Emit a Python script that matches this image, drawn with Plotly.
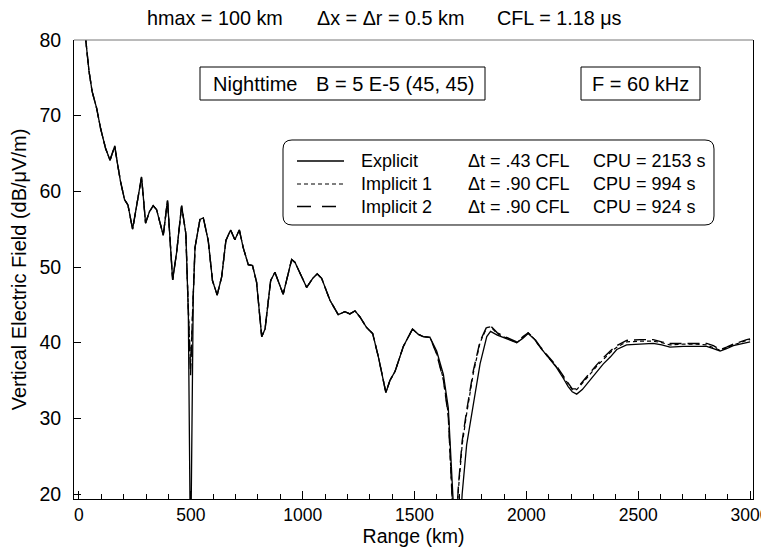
import plotly.graph_objects as go

# ---------------- data ----------------
range_km = [
    20, 31, 45, 59, 79, 97, 119, 139, 160, 171,
    186, 204, 219, 240, 280, 298, 315, 332, 347, 377,
    396, 419, 437, 459, 478, 489, 499, 511, 519, 541,
    556, 578, 597, 618, 638, 657, 678, 697, 717, 734,
    757, 776, 794, 817, 832, 857, 876, 913, 951, 966,
    990, 1018, 1045, 1065, 1085, 1122, 1159, 1189, 1211, 1234,
    1256, 1286, 1313, 1338, 1372, 1390, 1413, 1450, 1491, 1517,
    1539, 1569, 1599, 1629, 1651, 1666, 1680, 1696, 1713, 1733,
    1763, 1793, 1823, 1840, 1870, 1897, 1930, 1957, 1985, 2008,
    2035, 2061, 2100, 2135, 2165, 2187, 2205, 2225, 2250, 2284,
    2315, 2344, 2375, 2404, 2448, 2508, 2567, 2605, 2642, 2701,
    2760, 2806, 2836, 2866, 2895, 2925, 2985, 3000,
]

explicit_db = [
    83.0, 80.0, 75.9, 73.2, 71.0, 68.3, 65.7, 64.1, 66.0, 63.9,
    61.3, 58.9, 58.2, 55.0, 61.9, 55.8, 57.3, 58.1, 57.6, 54.2,
    58.8, 48.3, 52.0, 58.1, 54.4, 44.0, 10.0, 46.0, 52.6, 56.3,
    56.5, 53.5, 48.2, 46.3, 48.7, 53.5, 54.9, 53.6, 54.9, 52.6,
    50.3, 50.2, 48.0, 40.8, 41.8, 48.2, 49.3, 46.4, 51.0, 50.6,
    49.0, 47.3, 48.5, 49.1, 48.5, 45.6, 43.7, 44.1, 43.8, 44.2,
    43.4, 42.0, 41.2, 38.2, 33.4, 35.0, 36.2, 39.5, 41.8, 41.1,
    40.8, 40.7, 38.9, 35.8, 31.4, 23.5, 15.0, 11.0, 20.0, 26.5,
    32.0, 37.2, 40.8, 41.5, 41.0, 40.7, 40.3, 40.0, 40.6, 41.2,
    40.5, 39.4, 38.0, 36.7, 35.3, 34.2, 33.5, 33.2, 33.8, 35.0,
    36.1, 37.2, 38.1, 39.1, 39.7, 39.8, 39.9, 39.7, 39.4, 39.5,
    39.5, 39.5, 39.2, 38.9, 39.2, 39.6, 40.0, 40.1,
]

implicit1_db = [
    83.0, 80.0, 75.9, 73.2, 71.0, 68.3, 65.7, 64.1, 66.0, 63.9,
    61.3, 58.9, 58.2, 55.0, 61.9, 55.8, 57.3, 58.1, 57.6, 54.2,
    58.8, 48.3, 52.0, 58.1, 54.4, 44.5, 37.0, 46.5, 52.6, 56.3,
    56.5, 53.5, 48.2, 46.3, 48.7, 53.5, 54.9, 53.6, 54.9, 52.6,
    50.3, 50.2, 48.0, 40.8, 41.8, 48.2, 49.3, 46.4, 51.0, 50.6,
    49.0, 47.3, 48.5, 49.1, 48.5, 45.6, 43.7, 44.1, 43.8, 44.2,
    43.4, 42.0, 41.2, 38.2, 33.4, 35.0, 36.2, 39.5, 41.8, 41.1,
    40.8, 40.7, 38.6, 35.2, 30.5, 21.5, 12.0, 20.5, 26.5, 30.6,
    36.0, 40.0, 42.0, 42.1, 41.2, 40.8, 40.4, 40.0, 40.7, 41.3,
    40.5, 39.4, 38.0, 36.8, 35.5, 34.5, 33.8, 33.8, 34.6, 35.8,
    36.9, 37.8, 38.7, 39.4, 40.1, 40.2, 40.2, 40.0, 39.7, 39.8,
    39.8, 39.7, 39.4, 39.0, 39.3, 39.7, 40.3, 40.4,
]

implicit2_db = [
    83.0, 80.0, 75.9, 73.2, 71.0, 68.3, 65.7, 64.1, 66.0, 63.9,
    61.3, 58.9, 58.2, 55.0, 61.9, 55.8, 57.3, 58.1, 57.6, 54.2,
    58.8, 48.3, 52.0, 58.1, 54.4, 44.3, 35.7, 46.3, 52.6, 56.3,
    56.5, 53.5, 48.2, 46.3, 48.7, 53.5, 54.9, 53.6, 54.9, 52.6,
    50.3, 50.2, 48.0, 40.8, 41.8, 48.2, 49.3, 46.4, 51.0, 50.6,
    49.0, 47.3, 48.5, 49.1, 48.5, 45.6, 43.7, 44.1, 43.8, 44.2,
    43.4, 42.0, 41.2, 38.2, 33.4, 35.0, 36.2, 39.5, 41.8, 41.1,
    40.8, 40.7, 38.5, 35.1, 30.3, 21.0, 12.0, 21.0, 27.0, 31.0,
    36.3, 40.2, 42.1, 42.2, 41.3, 40.9, 40.4, 40.1, 40.8, 41.3,
    40.6, 39.5, 38.1, 36.9, 35.6, 34.6, 33.9, 33.9, 34.8, 36.0,
    37.1, 38.0, 38.9, 39.6, 40.3, 40.4, 40.4, 40.1, 39.9, 39.9,
    39.9, 39.9, 39.6, 39.1, 39.4, 39.8, 40.4, 40.5,
]

series_names = ["Explicit", "Implicit 1", "Implicit 2"]
series_dt = ["\u0394t = .43 CFL", "\u0394t = .90 CFL", "\u0394t = .90 CFL"]
series_cpu = ["CPU = 2153 s", "CPU = 994 s", "CPU = 924 s"]

x_ticks = [0, 500, 1000, 1500, 2000, 2500, 3000]
y_ticks = [20, 30, 40, 50, 60, 70, 80]

title_parts = ["hmax = 100 km", "\u0394x = \u0394r = 0.5 km", "CFL = 1.18 \u03bcs"]
box_text_left = "Nighttime"
box_text_right = "B = 5 E-5 (45, 45)"
freq_text = "F = 60 kHz"

# ---------------- figure ----------------
# the page body has an 8px margin; the figure is offset accordingly and
# all reference pixel positions are mapped through the plot-area fractions
PAGE_OFF = 8
W, H = 769 - PAGE_OFF, 555 - PAGE_OFF
L, R, T, B = 74, 753, 40, 499          # plot area in reference pixels
FONT = "Arial, Liberation Sans, sans-serif"


def px(xp):
    return (xp - L) / (R - L)


def py(yp):
    return (B - yp) / (B - T)


assert len(range_km) == len(explicit_db) == len(implicit1_db) == len(implicit2_db)

styles = [
    dict(color="black", width=1.3, dash="solid"),
    dict(color="black", width=1.2, dash="4px,3px"),
    dict(color="black", width=1.4, dash="12px,6px"),
]

fig = go.Figure()
for name, ys, st in zip(series_names, [explicit_db, implicit1_db, implicit2_db], styles):
    fig.add_trace(go.Scatter(x=range_km, y=ys, mode="lines", name=name,
                             line=st, showlegend=False))

shapes = []
annotations = []

# title pieces
for txt, xl in zip(title_parts, [145, 315, 495]):
    annotations.append(dict(text=txt, x=px(xl), y=py(18), xref="paper", yref="paper",
                            xanchor="left", yanchor="middle", showarrow=False,
                            font=dict(size=19.8, color="black", family=FONT)))

# boxed labels
shapes.append(dict(type="rect", xref="paper", yref="paper", x0=px(200), x1=px(485),
                   y0=py(67), y1=py(100), line=dict(color="black", width=1)))
shapes.append(dict(type="rect", xref="paper", yref="paper", x0=px(581), x1=px(700),
                   y0=py(67), y1=py(100), line=dict(color="black", width=1)))
annotations.append(dict(text=box_text_left, x=px(211), y=py(84), xref="paper", yref="paper",
                        xanchor="left", yanchor="middle", showarrow=False,
                        font=dict(size=20, color="black", family=FONT)))
annotations.append(dict(text=box_text_right, x=px(314), y=py(84), xref="paper", yref="paper",
                        xanchor="left", yanchor="middle", showarrow=False,
                        font=dict(size=20, color="black", family=FONT)))
annotations.append(dict(text=freq_text, x=px(640.5), y=py(84), xref="paper", yref="paper",
                        xanchor="center", yanchor="middle", showarrow=False,
                        font=dict(size=20, color="black", family=FONT)))

# legend box (rounded)
x0, x1, y0, y1, r = 283, 714, 140, 225, 9
def P(a, b):
    return f"{px(a):.5f},{py(b):.5f}"
path = (f"M {P(x0 + r, y0)} L {P(x1 - r, y0)} Q {P(x1, y0)} {P(x1, y0 + r)} "
        f"L {P(x1, y1 - r)} Q {P(x1, y1)} {P(x1 - r, y1)} "
        f"L {P(x0 + r, y1)} Q {P(x0, y1)} {P(x0, y1 - r)} "
        f"L {P(x0, y0 + r)} Q {P(x0, y0)} {P(x0 + r, y0)} Z")
shapes.append(dict(type="path", xref="paper", yref="paper", path=path,
                   line=dict(color="black", width=1), fillcolor="white"))

rows_y = [161, 184, 206.5]
for i, yy in enumerate(rows_y):
    st = styles[i]
    shapes.append(dict(type="line", xref="paper", yref="paper", x0=px(297), x1=px(344),
                       y0=py(yy), y1=py(yy), line=dict(color="black", width=st["width"],
                                                       dash=st["dash"] if i != 2 else "14px,11px")))
    for txt, xl in zip([series_names[i], series_dt[i], series_cpu[i]], [359, 466, 591]):
        annotations.append(dict(text=txt, x=px(xl), y=py(yy), xref="paper", yref="paper",
                                xanchor="left", yanchor="middle", showarrow=False,
                                font=dict(size=18, color="black", family=FONT)))

# top frame line (grey)
shapes.append(dict(type="line", xref="paper", yref="paper", x0=0, x1=1, y0=1, y1=1,
                   line=dict(color="#777777", width=1)))

fig.update_layout(
    width=W, height=H,
    margin=dict(l=L - PAGE_OFF, r=W - (R - PAGE_OFF), t=T - PAGE_OFF, b=555 - B,
                pad=0, autoexpand=False),
    paper_bgcolor="white", plot_bgcolor="white",
    font=dict(family=FONT, color="black"),
    shapes=shapes, annotations=annotations,
    showlegend=False,
)

fig.update_xaxes(
    range=[-22, 3013], tickmode="array", tickvals=x_ticks,
    ticktext=[str(v) for v in x_ticks], automargin=False, ticklabeloverflow="allow",
    ticks="inside", ticklen=8, tickwidth=1, tickcolor="black",
    minor=dict(dtick=100, tick0=0, ticks="inside", ticklen=5, tickwidth=1, tickcolor="black"),
    showline=True, linecolor="black", linewidth=1, mirror=False,
    showgrid=False, zeroline=False,
    tickfont=dict(size=17.5, family=FONT, color="black"),
    title=dict(text="Range (km)", font=dict(size=19.5, family=FONT, color="black"), standoff=5),
)
fig.update_yaxes(
    range=[19.34, 80], tickmode="array", tickvals=y_ticks,
    ticktext=[str(v) for v in y_ticks], automargin=False, ticklabeloverflow="allow",
    ticks="inside", ticklen=7, tickwidth=1, tickcolor="black", ticklabelstandoff=8,
    showline=True, linecolor="black", linewidth=1, mirror=True,
    showgrid=False, zeroline=False,
    tickfont=dict(size=19.5, family=FONT, color="black"),
    title=dict(text="Vertical Electric Field (dB/\u03bcV/m)",
               font=dict(size=20, family=FONT, color="black"), standoff=10),
)

fig.write_html("out.html")
